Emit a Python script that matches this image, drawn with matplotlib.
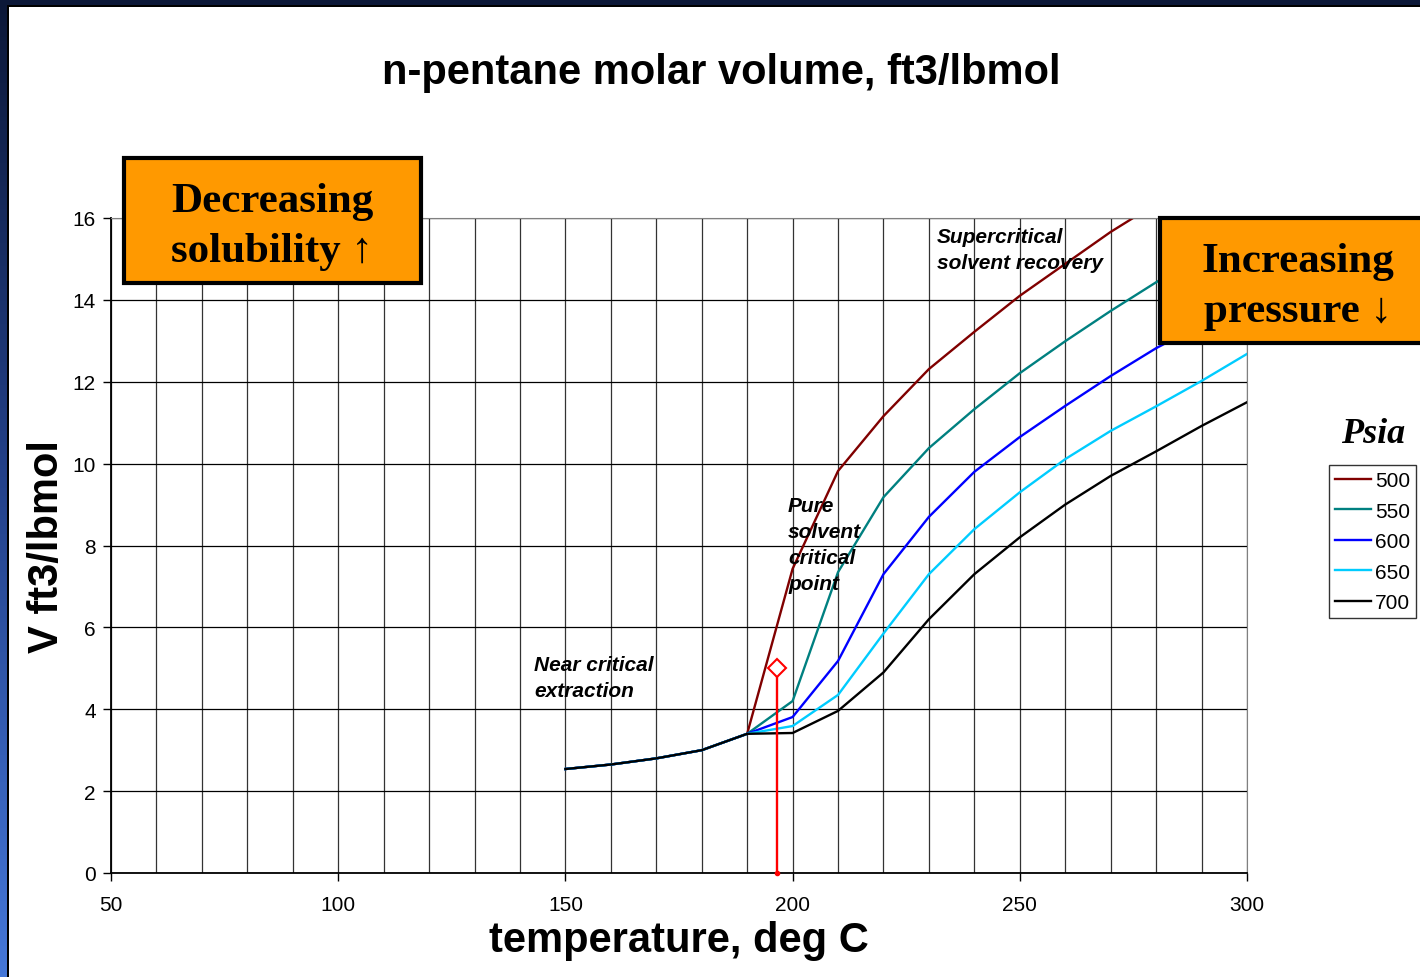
import numpy as np
import matplotlib.pyplot as plt
from matplotlib.patches import Rectangle
from matplotlib.colors import LinearSegmentedColormap

# temperatures, deg C
temps = [150, 160, 170, 180, 190, 200, 210, 220, 230, 240, 250, 260, 270, 280, 290, 300]

# molar volume, ft3/lbmol, one list per pressure (psia)
pressures = ["500", "550", "600", "650", "700"]
v500 = [2.54, 2.65, 2.80, 3.00, 3.40, 7.43, 9.82, 11.16, 12.31, 13.22, 14.10, 14.88, 15.66, 16.35, 17.00, 17.60]
v550 = [2.54, 2.65, 2.80, 3.00, 3.40, 4.20, 7.35, 9.18, 10.38, 11.33, 12.21, 12.99, 13.73, 14.43, 15.10, 15.70]
v600 = [2.54, 2.65, 2.80, 3.00, 3.40, 3.81, 5.18, 7.30, 8.70, 9.80, 10.65, 11.41, 12.14, 12.82, 13.40, 14.00]
v650 = [2.54, 2.65, 2.80, 3.00, 3.40, 3.59, 4.35, 5.85, 7.30, 8.40, 9.30, 10.11, 10.80, 11.40, 12.02, 12.68]
v700 = [2.54, 2.65, 2.80, 3.00, 3.40, 3.42, 3.96, 4.90, 6.20, 7.30, 8.20, 9.00, 9.70, 10.30, 10.92, 11.50]
series = [v500, v550, v600, v650, v700]
colors = ["#800000", "#008080", "#0000FF", "#00CCFF", "#000000"]

# pure solvent critical point
tc = 196.5
vc = 5.0

W, H = 1420, 978
fig = plt.figure(figsize=(W / 100, H / 100), dpi=100)
fig.patch.set_facecolor("white")

# slide frame: gradient band on the left, dark band on top
band = fig.add_axes([0, 0, 8 / W, 1], zorder=-5)
grad = np.linspace(0, 1, 256).reshape(-1, 1)
cmap = LinearSegmentedColormap.from_list("slide", ["#0c1838", "#24428c", "#4577d8"])
band.imshow(grad, aspect="auto", cmap=cmap, extent=[0, 1, 0, 1], origin="upper")
band.axis("off")
fig.add_artist(Rectangle((0, 1 - 6 / H), 1, 6 / H, transform=fig.transFigure,
                         facecolor="#0c1838", edgecolor="none", zorder=-4))
fig.add_artist(Rectangle((7 / W, 0), 2 / W, 1 - 6 / H, transform=fig.transFigure,
                         facecolor="black", edgecolor="none", zorder=-3))
fig.add_artist(Rectangle((7 / W, 1 - 8 / H), 1, 2 / H, transform=fig.transFigure,
                         facecolor="black", edgecolor="none", zorder=-3))

ax = fig.add_axes([111 / W, 1 - 874 / H, (1247 - 111) / W, (874 - 219) / H])

for vals, c, p in zip(series, colors, pressures):
    ax.plot(temps, vals, color=c, lw=1.7, label=p)

ax.plot([tc, tc], [0, vc], color="red", lw=1.7, zorder=4)
ax.plot(tc, vc, marker="D", ms=9, mfc="white", mec="red", mew=1.5, zorder=5)
ax.plot(tc, 0, marker="o", ms=3, color="red", zorder=5, clip_on=False)

ax.set_xlim(50, 300)
ax.set_ylim(0, 16)
ax.set_xticks([50, 100, 150, 200, 250, 300])
ax.set_xticks(np.arange(50, 301, 10), minor=True)
ax.set_yticks(np.arange(0, 17, 2))
ax.grid(True, which="both", axis="x", color="#333333", lw=0.9)
ax.grid(True, which="major", axis="y", color="black", lw=0.9)
ax.tick_params(axis="both", which="major", labelsize=15, direction="out", length=6,
               width=1, color="black")
ax.tick_params(axis="x", which="major", pad=9.5)
ax.tick_params(axis="y", which="major", pad=5)
ax.tick_params(axis="x", which="minor", length=0)
for lab in ax.get_xticklabels() + ax.get_yticklabels():
    lab.set_family("Liberation Sans")
ax.spines["top"].set_color("#808080")
ax.spines["right"].set_color("#808080")
ax.spines["left"].set_linewidth(1.3)
ax.spines["bottom"].set_linewidth(1.3)

ax.set_xlabel("temperature, deg C", fontsize=30, fontweight="bold", family="Liberation Sans", labelpad=4.5)
ax.set_ylabel("V ft3/lbmol", fontsize=30, fontweight="bold", family="Liberation Sans", labelpad=4)

fig.text(721 / W, 1 - 73 / H, "n-pentane molar volume, ft3/lbmol", ha="center", va="center",
         fontsize=30, fontweight="bold", family="Liberation Sans")

note = dict(fontsize=15, fontweight="bold", style="italic", family="Liberation Sans",
            ha="left", va="top", linespacing=1.45)
ax.text(231.8, 15.78, "Supercritical\nsolvent recovery", **note)
ax.text(199.0, 9.2, "Pure\nsolvent\ncritical\npoint", **note)
ax.text(143.1, 5.32, "Near critical\nextraction", **note)

# orange call-out boxes
box = dict(transform=fig.transFigure, facecolor="#FF9900", edgecolor="black", lw=3, zorder=10)
fig.add_artist(Rectangle((124 / W, 1 - 284 / H), 297 / W, 125 / H, **box))
fig.add_artist(Rectangle((1160 / W, 1 - 344 / H), 290 / W, 125 / H, **box))
serif = ["Liberation Serif", "DejaVu Serif"]
fig.text(272 / W, 1 - 227 / H, "Decreasing\nsolubility \u2191", ha="center", va="center",
         fontsize=31, fontweight="bold", family=serif, linespacing=1.4, zorder=11)
fig.text(1298 / W, 1 - 287 / H, "Increasing\npressure \u2193", ha="center", va="center",
         fontsize=31, fontweight="bold", family=serif, linespacing=1.4, zorder=11)

# legend
fig.text(1373 / W, 1 - 435 / H, "Psia", ha="center", va="center", fontsize=26,
         fontweight="bold", style="italic", family="Liberation Serif")
leg = fig.legend(loc="upper left", bbox_to_anchor=(1329 / W, 1 - 466 / H), frameon=True,
                 fancybox=False, edgecolor="black", handlelength=1.7, handletextpad=0.2,
                 borderpad=0.3, labelspacing=0.55, borderaxespad=0,
                 prop={"family": "Liberation Sans", "size": 15})
leg.get_frame().set_linewidth(1)

fig.savefig("out.png", dpi=100)
